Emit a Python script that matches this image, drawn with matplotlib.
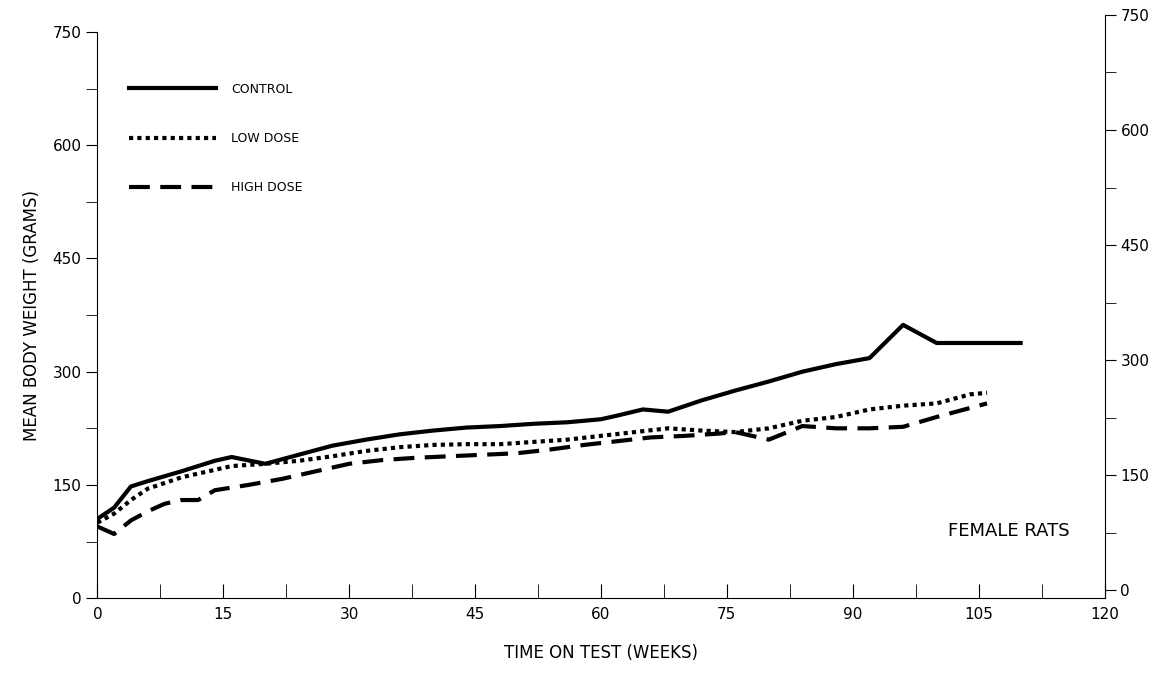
import numpy as np
import matplotlib
matplotlib.use("Agg")
import matplotlib.pyplot as plt

control_wk = [0, 2, 4, 6, 10, 14, 16, 20, 24, 28, 32, 36, 40, 44, 48, 52, 56, 60, 62, 65, 68, 72, 76, 80, 84, 88, 92, 96, 100, 104, 110]
control_wt = [105, 120, 148, 155, 168, 182, 187, 178, 190, 202, 210, 217, 222, 226, 228, 231, 233, 237, 242, 250, 247, 262, 275, 287, 300, 310, 318, 362, 338, 338, 338]

low_wk = [0, 2, 4, 6, 10, 14, 16, 20, 24, 28, 32, 36, 40, 44, 48, 52, 56, 60, 64, 68, 72, 76, 80, 84, 88, 92, 96, 100, 104, 106]
low_wt = [100, 112, 130, 145, 160, 170, 175, 178, 182, 188, 195, 200, 203, 204, 204, 207, 210, 215, 220, 225, 222, 220, 225, 235, 240, 250, 255, 258, 270, 272]

high_wk = [0, 2, 4, 6, 8, 10, 12, 14, 18, 22, 26, 30, 34, 38, 42, 46, 50, 54, 58, 62, 66, 70, 74, 76, 80, 84, 88, 92, 96, 100, 106]
high_wt = [95, 85, 103, 115, 125, 130, 130, 143, 150, 158, 168, 178, 183, 186, 188, 190, 192, 197, 203, 208, 213, 215, 218, 220, 210, 228, 225, 225, 227, 240, 258]

fig = plt.figure(figsize=(11.59, 6.79), dpi=100)
ax = fig.add_axes([0.084, 0.119, 0.869, 0.834])
ax.plot(control_wk, control_wt, color='black', lw=3, label='CONTROL')
ax.plot(low_wk, low_wt, color='black', lw=3, ls=(0, (1, 1)), label='LOW DOSE')
ax.plot(high_wk, high_wt, color='black', lw=3, ls=(0, (5, 2.5)), label='HIGH DOSE')

ax.set_xlim(0, 120)
ax.set_ylim(0, 750)
ax.set_xticks(np.arange(0, 121, 15))
ax.set_xticks(np.arange(0, 121, 7.5), minor=True)
ax.set_yticks(np.arange(0, 751, 150))
ax.set_yticks(np.arange(0, 751, 75), minor=True)
ax.tick_params(axis='x', which='both', direction='in', length=10, labelsize=11, pad=6)
ax.tick_params(axis='y', which='both', direction='out', length=8, labelsize=11)
ax.spines['top'].set_visible(False)
ax.spines['right'].set_visible(False)
ax.set_xlabel('TIME ON TEST (WEEKS)', fontsize=12, labelpad=16)
ax.set_ylabel('MEAN BODY WEIGHT (GRAMS)', fontsize=12, labelpad=8)
ax.text(0.965, 0.11, 'FEMALE RATS', transform=ax.transAxes, ha='right', fontsize=13)
ax.legend(loc='upper left', bbox_to_anchor=(0.02, 0.93), frameon=False,
          fontsize=9, handlelength=7, labelspacing=2.9, handletextpad=1.2)

# right-hand scale, offset slightly from the left one
ax2 = fig.add_axes([0.084, 0.119, 0.869, 0.859])
ax2.patch.set_visible(False)
ax2.set_xlim(0, 120)
ax2.set_ylim(-10.4, 750)
for s in ['top', 'left', 'bottom']:
    ax2.spines[s].set_visible(False)
ax2.xaxis.set_visible(False)
ax2.yaxis.tick_right()
ax2.set_yticks(np.arange(0, 751, 150))
ax2.set_yticks(np.arange(0, 751, 75), minor=True)
ax2.tick_params(axis='y', which='both', direction='out', length=8, labelsize=11)

fig.savefig('out.png')
